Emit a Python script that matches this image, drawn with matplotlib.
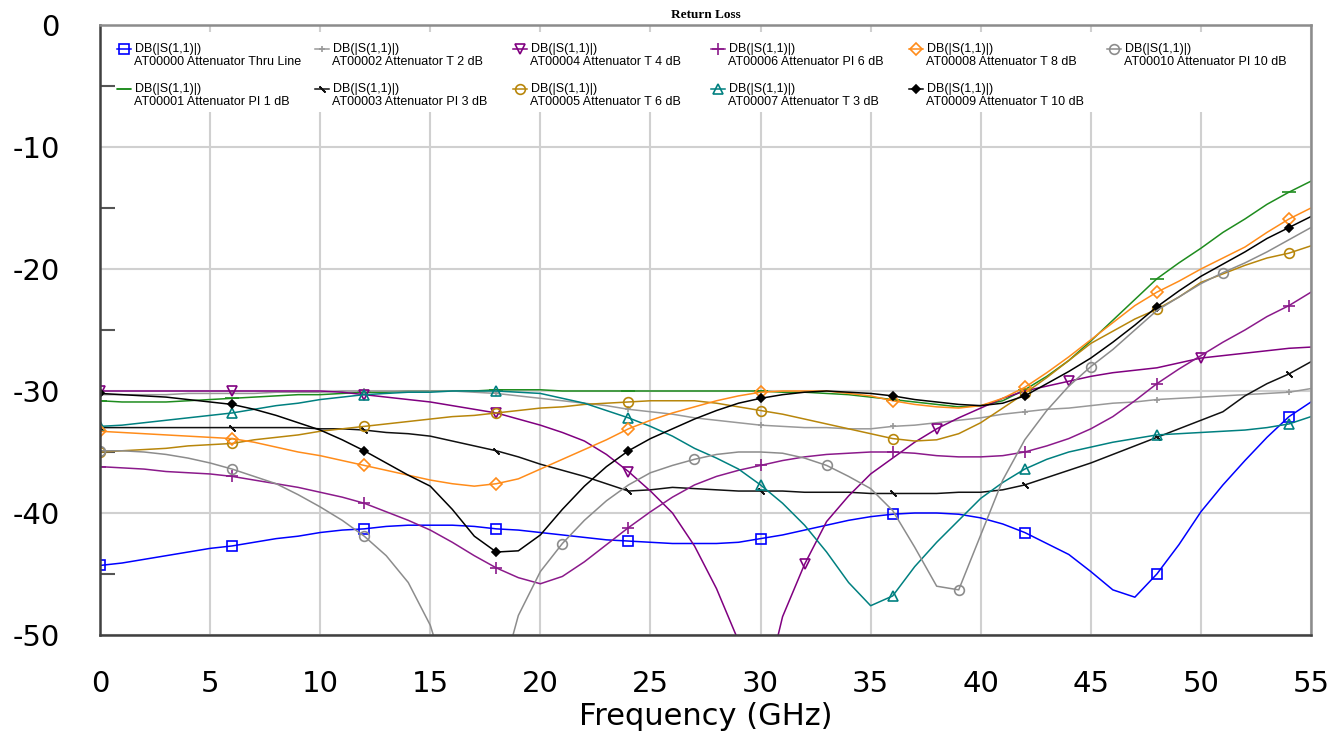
import matplotlib
matplotlib.use("Agg")
import matplotlib.pyplot as plt
from matplotlib.legend import Legend
from matplotlib.legend_handler import HandlerLine2D
from matplotlib.patches import Rectangle
from matplotlib.ticker import FixedLocator

plt.rcParams["axes.unicode_minus"] = False

# |S11| in dB vs frequency, one list per attenuator model
freq_ghz = list(range(56))

thru_line = [-44.3, -44.1, -43.8, -43.5, -43.2, -42.9, -42.7, -42.4, -42.1, -41.9,
             -41.6, -41.4, -41.3, -41.1, -41.0, -41.0, -41.0, -41.1, -41.3, -41.4,
             -41.6, -41.8, -42.0, -42.2, -42.3, -42.4, -42.5, -42.5, -42.5, -42.4,
             -42.1, -41.8, -41.4, -41.0, -40.6, -40.3, -40.1, -40.0, -40.0, -40.1,
             -40.4, -40.9, -41.6, -42.5, -43.4, -44.8, -46.3, -46.9, -45.0, -42.6,
             -39.9, -37.7, -35.7, -33.8, -32.1, -30.9]
pi_1db = [-30.8, -30.9, -30.9, -30.9, -30.8, -30.7, -30.6, -30.5, -30.4, -30.3,
          -30.3, -30.2, -30.1, -30.1, -30.0, -30.0, -30.0, -30.0, -29.9, -29.9,
          -29.9, -30.0, -30.0, -30.0, -30.0, -30.0, -30.0, -30.0, -30.0, -30.0,
          -30.0, -30.1, -30.1, -30.2, -30.3, -30.5, -30.7, -30.9, -31.1, -31.3,
          -31.2, -30.8, -29.9, -28.8, -27.5, -25.9, -24.2, -22.5, -20.8, -19.5,
          -18.3, -17.0, -15.9, -14.7, -13.7, -12.8]
t_2db = [-30.3, -30.3, -30.3, -30.3, -30.2, -30.2, -30.2, -30.2, -30.1, -30.1,
         -30.1, -30.0, -30.0, -30.0, -30.0, -30.0, -30.0, -30.1, -30.2, -30.4,
         -30.6, -30.8, -31.0, -31.2, -31.5, -31.7, -31.9, -32.2, -32.4, -32.6,
         -32.8, -32.9, -33.0, -33.0, -33.1, -33.1, -32.9, -32.8, -32.6, -32.4,
         -32.2, -31.9, -31.7, -31.5, -31.4, -31.2, -31.0, -30.9, -30.7, -30.6,
         -30.5, -30.4, -30.3, -30.2, -30.1, -29.8]
pi_3db = [-33.0, -33.0, -33.0, -33.0, -33.0, -33.0, -33.0, -33.0, -33.0, -33.0,
          -33.1, -33.1, -33.2, -33.4, -33.5, -33.7, -34.1, -34.5, -34.9, -35.4,
          -36.0, -36.5, -37.0, -37.6, -38.2, -38.1, -37.9, -38.0, -38.1, -38.2,
          -38.2, -38.2, -38.3, -38.3, -38.3, -38.4, -38.4, -38.4, -38.4, -38.3,
          -38.3, -38.1, -37.7, -37.1, -36.5, -35.9, -35.2, -34.5, -33.8, -33.1,
          -32.4, -31.7, -30.4, -29.4, -28.6, -27.6]
t_4db = [-30.0, -30.0, -30.0, -30.0, -30.0, -30.0, -30.0, -30.0, -30.0, -30.0,
         -30.0, -30.1, -30.3, -30.5, -30.7, -30.9, -31.2, -31.5, -31.8, -32.3,
         -32.8, -33.4, -34.1, -35.2, -36.6, -38.2, -40.0, -42.7, -46.2, -50.5,
         -56.0, -48.5, -44.2, -40.7, -38.6, -36.8, -35.5, -34.2, -33.1, -32.2,
         -31.4, -30.6, -30.0, -29.6, -29.2, -28.8, -28.5, -28.3, -28.1, -27.7,
         -27.3, -27.1, -26.9, -26.7, -26.5, -26.4]
t_6db = [-35.0, -34.9, -34.8, -34.7, -34.5, -34.4, -34.3, -34.0, -33.8, -33.6,
         -33.3, -33.1, -32.9, -32.7, -32.5, -32.3, -32.1, -32.0, -31.8, -31.6,
         -31.4, -31.3, -31.1, -31.0, -30.9, -30.8, -30.8, -30.8, -31.0, -31.3,
         -31.6, -31.9, -32.3, -32.7, -33.1, -33.5, -33.9, -34.1, -34.0, -33.5,
         -32.6, -31.4, -30.2, -28.9, -27.5, -26.1, -25.1, -24.1, -23.3, -22.3,
         -21.1, -20.4, -19.7, -19.1, -18.7, -18.1]
pi_6db = [-36.2, -36.3, -36.4, -36.6, -36.7, -36.8, -37.0, -37.3, -37.6, -37.9,
          -38.3, -38.7, -39.2, -39.9, -40.6, -41.4, -42.4, -43.5, -44.5, -45.3,
          -45.8, -45.2, -44.0, -42.6, -41.2, -39.9, -38.7, -37.7, -37.0, -36.5,
          -36.1, -35.7, -35.4, -35.2, -35.1, -35.0, -35.0, -35.1, -35.3, -35.4,
          -35.4, -35.3, -35.0, -34.5, -33.9, -33.1, -32.1, -30.8, -29.4, -28.2,
          -27.1, -26.0, -25.0, -23.9, -23.0, -21.9]
t_3db = [-32.9, -32.8, -32.6, -32.4, -32.2, -32.0, -31.8, -31.5, -31.2, -31.0,
         -30.7, -30.5, -30.3, -30.2, -30.1, -30.1, -30.0, -30.0, -30.0, -30.1,
         -30.2, -30.6, -31.0, -31.6, -32.2, -32.9, -33.7, -34.7, -35.5, -36.4,
         -37.7, -39.2, -41.0, -43.2, -45.7, -47.6, -46.8, -44.4, -42.4, -40.6,
         -38.8, -37.5, -36.4, -35.6, -35.0, -34.6, -34.2, -33.9, -33.6, -33.5,
         -33.4, -33.3, -33.2, -33.0, -32.7, -32.1]
t_8db = [-33.3, -33.4, -33.5, -33.6, -33.7, -33.8, -33.9, -34.2, -34.6, -35.0,
         -35.3, -35.7, -36.1, -36.5, -36.9, -37.3, -37.6, -37.8, -37.6, -37.2,
         -36.4, -35.6, -34.8, -34.0, -33.1, -32.4, -31.8, -31.3, -30.8, -30.4,
         -30.1, -30.0, -30.0, -30.0, -30.2, -30.4, -30.8, -31.1, -31.3, -31.4,
         -31.2, -30.6, -29.7, -28.5, -27.2, -25.8, -24.4, -23.0, -21.9, -21.0,
         -20.0, -19.1, -18.2, -17.0, -15.9, -15.0]
t_10db = [-30.2, -30.3, -30.4, -30.5, -30.7, -30.9, -31.1, -31.5, -32.0, -32.6,
          -33.2, -34.0, -34.9, -35.9, -36.9, -37.8, -39.7, -41.9, -43.2, -43.1,
          -41.8, -39.7, -37.8, -36.2, -34.9, -33.9, -33.1, -32.3, -31.6, -31.0,
          -30.6, -30.3, -30.1, -30.0, -30.1, -30.2, -30.4, -30.7, -30.9, -31.1,
          -31.2, -31.0, -30.4, -29.4, -28.4, -27.3, -26.0, -24.6, -23.1, -21.8,
          -20.6, -19.6, -18.6, -17.5, -16.6, -15.7]
pi_10db = [-34.9, -34.9, -35.0, -35.2, -35.5, -35.9, -36.4, -37.0, -37.6, -38.5,
           -39.5, -40.6, -41.9, -43.5, -45.7, -49.2, -55.0, -58.0, -55.0, -48.4,
           -44.8, -42.5, -40.6, -39.0, -37.7, -36.7, -36.1, -35.6, -35.2, -35.0,
           -35.0, -35.1, -35.5, -36.1, -37.0, -38.0, -39.8, -42.8, -46.0, -46.3,
           -41.8, -37.3, -34.0, -31.6, -29.6, -28.0, -26.6, -25.0, -23.4, -22.3,
           -21.2, -20.3, -19.5, -18.6, -17.6, -16.6]

labels = ["AT00000 Attenuator Thru Line", "AT00001 Attenuator PI 1 dB",
          "AT00002 Attenuator T 2 dB", "AT00003 Attenuator PI 3 dB",
          "AT00004 Attenuator T 4 dB", "AT00005 Attenuator T 6 dB",
          "AT00006 Attenuator PI 6 dB", "AT00007 Attenuator T 3 dB",
          "AT00008 Attenuator T 8 dB", "AT00009 Attenuator T 10 dB",
          "AT00010 Attenuator PI 10 dB"]

every6 = list(range(0, 56, 6))

# (values, color, marker, marker size, filled, marker indices)
traces = [
    (thru_line, "#0000ff", "s", 6.5, False, every6),
    (pi_1db, "#1e8c1e", "_", 10, False, every6),
    (t_2db, "#999999", "+", 5, False, every6),
    (pi_3db, "#111111", (2, 2, 45), 6, False, every6),
    (t_4db, "#800080", "v", 7, False, [0, 6, 12, 18, 24, 32, 38, 44, 50]),
    (t_6db, "#b8860b", "o", 7, False, every6),
    (pi_6db, "#8b1a8b", "+", 8, False, every6),
    (t_3db, "#008080", "^", 7, False, every6),
    (t_8db, "#ff8c1a", "D", 6.5, False, every6),
    (t_10db, "#000000", "D", 4.5, True, every6),
    (pi_10db, "#8c8c8c", "o", 7, False, [0, 6, 12, 21, 27, 33, 39, 45, 51]),
]


class FirstLineHandler(HandlerLine2D):
    # put the legend sample level with the first line of a two-line label
    def create_artists(self, legend, orig_handle, xdescent, ydescent,
                       width, height, fontsize, trans):
        return super().create_artists(legend, orig_handle, xdescent,
                                      ydescent - 1.15 * fontsize, width, height,
                                      fontsize, trans)


fig = plt.figure(figsize=(13.43, 7.38), dpi=100)
ax = fig.add_axes([100 / 1343, 1 - 635 / 738, 1211 / 1343, 610 / 738])

handles = []
for (vals, color, marker, ms, filled, marks), name in zip(traces, labels):
    line, = ax.plot(freq_ghz, vals, color=color, lw=1.1, marker=marker, ms=ms,
                    mfc=color if filled else "none", mec=color, mew=1.2,
                    markevery=marks, label="DB(|S(1,1)|)\n" + name, zorder=2)
    handles.append(line)

ax.set_xlim(0, 55)
ax.set_ylim(-50, 0)
ax.set_xticks(range(0, 56, 5))
ax.set_yticks(range(-50, 1, 10))
ax.yaxis.set_minor_locator(FixedLocator([-45, -35, -25, -15, -5]))
ax.tick_params(axis="both", which="major", length=0, labelsize=21)
ax.tick_params(axis="y", which="major", pad=29)
ax.tick_params(axis="x", which="major", pad=25)
ax.tick_params(axis="y", which="minor", direction="in", length=11, width=1.5,
               color="#555555")
ax.grid(True, which="major", color="#d0d0d0", lw=1.5)
ax.set_axisbelow(True)

for side in ("left", "bottom"):
    ax.spines[side].set_color("#404040")
    ax.spines[side].set_linewidth(1.8)
for side in ("top", "right"):
    ax.spines[side].set_color("#8c8c8c")
    ax.spines[side].set_linewidth(1.8)

ax.set_xlabel("Frequency (GHz)", fontsize=22, labelpad=3)
ax.set_title("Return Loss", fontsize=9.5, fontweight="bold",
             family="Liberation Serif", pad=5)

# white band behind the legend block hides the grid there
ax.add_patch(Rectangle((16 / 1211, (635 - 112) / 610), 1189 / 1211, 80 / 610,
                       transform=ax.transAxes, facecolor="white",
                       edgecolor="none", zorder=1))

# legend laid out as six fixed-width columns, two entries each
for col in range(6):
    group = handles[2 * col:2 * col + 2]
    leg = Legend(ax, group, [h.get_label() for h in group],
                 loc="upper left", bbox_to_anchor=((17 + 198 * col) / 1211, 0.970),
                 borderaxespad=0, borderpad=0, frameon=False, handlelength=1.1,
                 handletextpad=0.3, labelspacing=1.2,
                 handler_map={h: FirstLineHandler() for h in group},
                 prop={"family": "Liberation Sans", "size": 9})
    for t in leg.get_texts():
        t.set_linespacing(1.12)
    leg.set_zorder(6)
    ax.add_artist(leg)

fig.savefig("out.png", dpi=100)
